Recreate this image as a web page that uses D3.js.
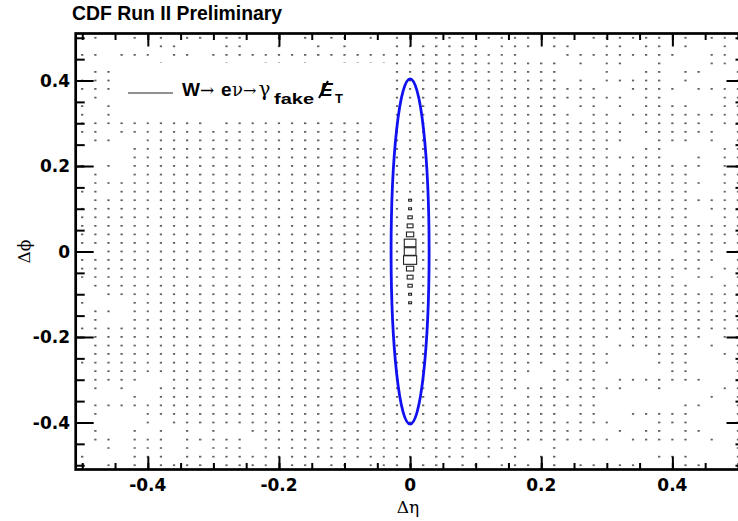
<!DOCTYPE html>
<html>
<head>
<meta charset="utf-8">
<script src="https://cdn.jsdelivr.net/npm/d3@7"></script>
<style>
  body { margin: 0; background: #fff; }
</style>
</head>
<body>
<script>
// histogram: bins of 0.02 x 0.02, centres from -0.5 to 0.5 (51 x 51)
var binStep = 0.02,
    maxCount = 9;

// rows from dphi = +0.50 (top) down to -0.50, columns deta = -0.50 .. -0.02
var leftHalf = [
    '.1..1.1.11.11..1.1.11.1.1', '......11...11..1..1.1...1', '11.111.11.111111111111111',
    '......1....1..11.1..11111', '.11.....................1', '111.....................1',
    '111.....................1', '.1......................1', '1.1.....................1',
    '1.1.....................1', '1111111111.111111111111.1', '11.11111111111111111111.1',
    '.11..111111111111111111.1', '....111111111111111111111', '....111111111111111111111',
    '1.1.111111111111111111111', '.1..111111111111111111111', '.111111111111111111111111',
    '11.1111111111111111111111', '.111111111111111111111111', '1111111111111111111111111',
    '1111111111111111111111111', '1111111111111111111111111', '1111111111111111111111111',
    '1111111111111111111111111', '..11111111111111111111111', '1111111111111111111111111',
    '1111111111111111111111111', '1111111111111111111111111', '.111111111111111111111111',
    '..11111111111111111111111', '1...111111111111111111111', '.11.111111111111111111111',
    '.1..111111111111111111111', '1111111111111111111111111', '.111111111111111111111111',
    '.111111111111111111111111', '.111111111111111111111111', '1111111111111111111111111',
    '.111111111111111111111111', '.1111..111111111111111111', '.1.1..1111111111111111111',
    '....1.1111111111111111111', '.111111111111111111111111', '.1...11111111111111111111',
    '.....1.111111111111111111', '.1..1.1.1.1..111111111111', '.11.111.11111.11111111111',
    '..1.111.1.111.11111111111', '1...111.11111111111111111', '1.1.1.1111.1111.11.11.111'
];

// deta = 0 column, same row order
var centreCounts = [
    1, 1, 1, 1, 1, 1, 1, 1, 1, 1, 1, 1, 1, 1, 1, 1, 1, 1, 1, 2, 2, 3, 4, 5, 8, 8,
    9, 5, 4, 3, 2, 2, 1, 1, 1, 1, 1, 1, 1, 1, 1, 1, 1, 1, 1, 1, 1, 1, 1, 1, 1
];

// columns deta = +0.02 .. +0.50
var rightHalf = [
    '.111.1111.1..111111.1.11.', '11111.111.11..11.11.1..1.', '11111111...111111111..11.',
    '11111111111.1.11..1...11.', '11111111111...1..11.11..1', '11111111111.1.11111.1...1',
    '11111111111111..1111.1111', '1111111111111111.11....11', '11111111111.11.1.1111..11',
    '111111111111.11.111111111', '1111111111111111.11111.11', '1111111111111111.111111.1',
    '1111111111111111..111.1.1', '111111111111111..11....11', '1111111111111111111..1.11',
    '111111111111111.111111.11', '111111111111111111111..11', '1111111111111111111111.11',
    '111111111111111111111..11', '1111111111111111111111111', '111111111111111111111.111',
    '111111111111111111111..11', '1111111111111111111111111', '1111111111111111111111111',
    '1111111111111111111111111', '1.11111111111111111.111.1', '11111111111111111111111.1',
    '1111111111111111111111.11', '11111111111111111111.11.1', '111111111111111111111..11',
    '1111111111111111111111111', '1111111111111111111111111', '1111111111111111111111111',
    '1111111111111111111111111', '1111111111111111111111111', '111111111111111.111111.11',
    '11111111111111.111111.1.1', '111111111111111...111..11', '1111111111.1111...111...1',
    '111111111.1111.....11...1', '11111111..1111.1111111..1', '11111111111.1111..1....11',
    '1111111.111111........1.1', '11111111111111......11..1', '11111111111.11..11111...1',
    '111111111111111...111...1', '1111111111111..1.11.11..1', '111111111111111.11111.1.1',
    '11111111..1.............1', '.111.1.1.11.......111...1', '11.11.111.1.11.11...11...'
];

// fitted ellipse (blue)
var ellipse = { deta: 0, dphi: 0, rEta: 0.029, rPhi: 0.404 };

var majorTicks = [-0.4, -0.2, 0, 0.2, 0.4],
    tickLabels = ['-0.4', '-0.2', '0', '0.2', '0.4'];

var width = 738,
    height = 521;

var svg = d3.select('body')
    .append('svg')
    .attr('width', width)
    .attr('height', height);

svg.append('rect')
    .attr('width', width)
    .attr('height', height)
    .attr('fill', '#fff');

// scales
var x = d3.scaleLinear().domain([-0.51, 0.51]).range([75.7, 744.5]);
var y = d3.scaleLinear().domain([-0.51, 0.51]).range([469.5, 33.5]);

svg.append('defs')
    .append('clipPath')
    .attr('id', 'frameClip')
    .append('rect')
    .attr('x', x(-0.51))
    .attr('y', y(0.51))
    .attr('width', x(0.51) - x(-0.51))
    .attr('height', y(-0.51) - y(0.51));

// build cells from the row strings
var cells = [];
leftHalf.forEach(function (row, r) {
    var full = row + centreCounts[r] + rightHalf[r];
    for (var c = 0; c < full.length; c++) {
        var n = full[c] === '.' ? 0 : +full[c];
        if (n > 0) {
            cells.push({ eta: (c - 25) * binStep, phi: (25 - r) * binStep, n: n });
        }
    }
});

var binW = x(binStep) - x(0),
    binH = y(0) - y(binStep);

// boxes
svg.append('g')
    .attr('clip-path', 'url(#frameClip)')
    .selectAll('rect')
    .data(cells)
    .enter()
    .append('rect')
    .attr('x', function (d) { return x(d.eta) - binW * d.n / maxCount / 2; })
    .attr('y', function (d) { return y(d.phi) - binH * d.n / maxCount / 2; })
    .attr('width', function (d) { return binW * d.n / maxCount; })
    .attr('height', function (d) { return binH * d.n / maxCount; })
    .attr('fill', 'none')
    .attr('stroke', function (d) { return d.n > 1 ? '#222' : '#555'; })
    .attr('stroke-width', function (d) { return d.n > 1 ? 1.1 : 0.75; });

// ellipse
svg.append('ellipse')
    .attr('cx', x(ellipse.deta))
    .attr('cy', y(ellipse.dphi))
    .attr('rx', x(ellipse.rEta) - x(0))
    .attr('ry', y(0) - y(ellipse.rPhi))
    .attr('fill', 'none')
    .attr('stroke', '#1010f0')
    .attr('stroke-width', 2.8);

// legend
var legend = svg.append('g')
    .attr('font-family', 'Liberation Sans, Arial, sans-serif')
    .attr('font-weight', 'bold');
legend.append('rect')
    .attr('x', 115)
    .attr('y', 63)
    .attr('width', 275)
    .attr('height', 56)
    .attr('fill', '#fff');
legend.append('line')
    .attr('x1', 128).attr('x2', 173)
    .attr('y1', 93).attr('y2', 93)
    .attr('stroke', '#222')
    .attr('stroke-width', 1);

function legendText(px, py, size, str) {
    return legend.append('text')
        .attr('x', px)
        .attr('y', py)
        .attr('font-size', size)
        .text(str);
}
function legendSymbol(px, size, str) {
    return legendText(px, 96, size, str)
        .attr('font-family', 'DejaVu Serif, serif')
        .attr('font-weight', 'normal');
}
legendText(182, 96, 19, 'W');
legendSymbol(200, 17, '\u2192');
legendText(221, 96, 19, 'e');
legendSymbol(232, 18, '\u03bd');
legendSymbol(243, 16, '\u2192');
legendSymbol(258.5, 20, '\u03b3');
legendText(274, 103.5, 15, 'fake').attr('textLength', 40).attr('lengthAdjust', 'spacingAndGlyphs');
legendText(320, 96, 19, 'E').attr('font-style', 'italic');
legendText(335, 103, 13, 'T');
// missing-energy slash through the E
legend.append('line')
    .attr('x1', 319).attr('y1', 98)
    .attr('x2', 328).attr('y2', 81)
    .attr('stroke', '#000')
    .attr('stroke-width', 2);

// frame
svg.append('rect')
    .attr('x', x(-0.51))
    .attr('y', y(0.51))
    .attr('width', x(0.51) - x(-0.51))
    .attr('height', y(-0.51) - y(0.51))
    .attr('fill', 'none')
    .attr('stroke', '#000')
    .attr('stroke-width', 2.7);

// ticks (inward)
var minorTicks = x.ticks(20);
function drawTicks(axis, transform, values, size) {
    var g = svg.append('g')
        .attr('transform', transform)
        .call(axis.tickValues(values).tickSize(size).tickSizeOuter(0).tickFormat(''));
    g.select('.domain').remove();
    g.selectAll('line').attr('stroke', '#000').attr('stroke-width', 2);
}
drawTicks(d3.axisBottom(x), 'translate(0,' + y(-0.51) + ')', minorTicks, -6.5);
drawTicks(d3.axisBottom(x), 'translate(0,' + y(-0.51) + ')', majorTicks, -13);
drawTicks(d3.axisTop(x), 'translate(0,' + y(0.51) + ')', minorTicks, -6.5);
drawTicks(d3.axisTop(x), 'translate(0,' + y(0.51) + ')', majorTicks, -13);
drawTicks(d3.axisLeft(y), 'translate(' + x(-0.51) + ',0)', minorTicks, -9);
drawTicks(d3.axisLeft(y), 'translate(' + x(-0.51) + ',0)', majorTicks, -18);
drawTicks(d3.axisRight(y), 'translate(' + x(0.51) + ',0)', minorTicks, -9);
drawTicks(d3.axisRight(y), 'translate(' + x(0.51) + ',0)', majorTicks, -18);

// tick labels
var labelFont = 'DejaVu Sans, sans-serif';
svg.append('g').selectAll('text')
    .data(majorTicks)
    .enter()
    .append('text')
    .attr('x', function (d) { return x(d); })
    .attr('y', 491)
    .attr('text-anchor', 'middle')
    .attr('font-family', labelFont)
    .attr('font-weight', 'bold')
    .attr('font-size', 17)
    .text(function (d, i) { return tickLabels[i]; });

svg.append('g').selectAll('text')
    .data(majorTicks)
    .enter()
    .append('text')
    .attr('x', 70)
    .attr('y', function (d) { return y(d) + 6.3; })
    .attr('text-anchor', 'end')
    .attr('font-family', labelFont)
    .attr('font-weight', 'bold')
    .attr('font-size', 17)
    .text(function (d, i) { return tickLabels[i]; });

// axis titles
svg.append('text')
    .attr('x', 408)
    .attr('y', 513)
    .attr('text-anchor', 'middle')
    .attr('font-family', 'DejaVu Serif, serif')
    .attr('font-size', 17)
    .text('\u0394\u03b7');

svg.append('text')
    .attr('transform', 'translate(30,' + y(0) + ') rotate(-90)')
    .attr('text-anchor', 'middle')
    .attr('font-family', 'DejaVu Serif, serif')
    .attr('font-size', 17)
    .text('\u0394\u03d5');

// title
svg.append('text')
    .attr('x', 72)
    .attr('y', 20)
    .attr('font-family', 'Liberation Sans, Arial, sans-serif')
    .attr('font-weight', 'bold')
    .attr('font-size', 19.4)
    .text('CDF Run II Preliminary');
</script>
</body>
</html>
